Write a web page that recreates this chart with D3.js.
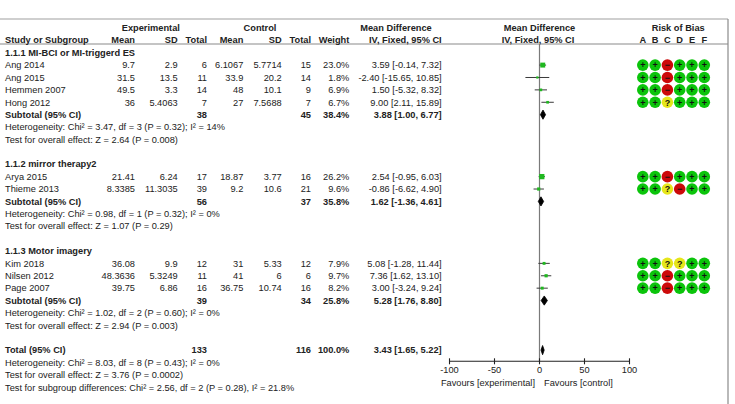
<!DOCTYPE html>
<html><head><meta charset="utf-8">
<script src="https://cdn.jsdelivr.net/npm/d3@7"></script>
<style>
html,body{margin:0;padding:0;background:#fff;}
text{font-family:"Liberation Sans",Arial,sans-serif;font-size:9.25px;fill:#222;}
.b{font-weight:bold;}
</style></head>
<body><svg id="c" width="735" height="404"></svg>
<script>
// ---- data ----
const groupNames = ["1.1.1 MI-BCI or MI-triggerd ES", "1.1.2 mirror therapy2", "1.1.3 Motor imagery"];
const studyNames = ["Ang 2014","Ang 2015","Hemmen 2007","Hong 2012","Arya 2015","Thieme 2013","Kim 2018","Nilsen 2012","Page 2007"];
const studyGroup = [0,0,0,0,1,1,2,2,2];
const expMean = ["9.7","31.5","49.5","36","21.41","8.3385","36.08","48.3636","39.75"];
const expSD   = ["2.9","13.5","3.3","5.4063","6.24","11.3035","9.9","5.3249","6.86"];
const expN    = [6,11,14,7,17,39,12,11,16];
const ctlMean = ["6.1067","33.9","48","27","18.87","9.2","31","41","36.75"];
const ctlSD   = ["5.7714","20.2","10.1","7.5688","3.77","10.6","5.33","6","10.74"];
const ctlN    = [15,14,9,7,16,21,12,6,16];
const weights = [23.0,1.8,6.9,6.7,26.2,9.6,7.9,9.7,8.2];
const meanDiff = [3.59,-2.40,1.50,9.00,2.54,-0.86,5.08,7.36,3.00];
const ciLow  = [-0.14,-15.65,-5.32,2.11,-0.95,-6.62,-1.28,1.62,-3.24];
const ciHigh = [7.32,10.85,8.32,15.89,6.03,4.90,11.44,13.10,9.24];
const riskOfBias = ["++-+++","++-+++","++-+++","++?+++","++-+++","++?-++","++??++","++-+++","++-+++"];
const biasDomains = ["A","B","C","D","E","F"];

const subExpN = [38,56,39];
const subCtlN = [45,37,34];
const subWeight = [38.4,35.8,25.8];
const subMD = [3.88,1.62,5.28];
const subLow = [1.00,-1.36,1.76];
const subHigh = [6.77,4.61,8.80];
const subHet = ["Heterogeneity: Chi² = 3.47, df = 3 (P = 0.32); I² = 14%",
                "Heterogeneity: Chi² = 0.98, df = 1 (P = 0.32); I² = 0%",
                "Heterogeneity: Chi² = 1.02, df = 2 (P = 0.60); I² = 0%"];
const subTest = ["Test for overall effect: Z = 2.64 (P = 0.008)",
                 "Test for overall effect: Z = 1.07 (P = 0.29)",
                 "Test for overall effect: Z = 2.94 (P = 0.003)"];

const totalExpN = 133, totalCtlN = 116, totalWeight = 100.0;
const totalMD = 3.43, totalLow = 1.65, totalHigh = 5.22;
const totalNotes = ["Heterogeneity: Chi² = 8.03, df = 8 (P = 0.43); I² = 0%",
                    "Test for overall effect: Z = 3.76 (P = 0.0002)",
                    "Test for subgroup differences: Chi² = 2.56, df = 2 (P = 0.28), I² = 21.8%"];
const axisTicks = [-100,-50,0,50,100];
const favoursLabels = ["Favours [experimental]","Favours [control]"];

// ---- layout ----
const svg = d3.select("#c");
const W = 728;
const rowY = d3.scaleLinear().domain([0,27]).range([52.7, 387.3]);
const x = d3.scaleLinear().domain([-100,100]).range([449.5,629.5]);
const sqSize = d3.scaleSqrt().domain([0,100]).range([0,10.3]);
const col = {study:5, eMean:135, eSD:177.7, eN:207, cMean:243.3, cSD:281.7, cN:311, w:349.3, ci:441.7};
const biasX = [642.8,655.1,667.4,679.7,692,704.3];
const BL = 3.25; // baseline offset from row centre
const fmtCI = (m,l,h)=> `${m.toFixed(2)} [${l.toFixed(2)}, ${h.toFixed(2)}]`;

function txt(xp, y, s, anchor, bold){
  svg.append("text").attr("x",xp).attr("y",y+BL).attr("text-anchor",anchor||"start")
    .attr("class",bold?"b":null).text(s);
}

// frame lines
svg.append("line").attr("x1",0).attr("x2",W).attr("y1",19).attr("y2",19).attr("stroke","#a0a0a0").attr("stroke-width",1.2);
svg.append("line").attr("x1",0).attr("x2",W).attr("y1",44).attr("y2",44).attr("stroke","#8a8a8a").attr("stroke-width",1.2);
svg.append("line").attr("x1",W).attr("x2",W).attr("y1",19).attr("y2",404).attr("stroke","#8a8a8a").attr("stroke-width",1.2);

// headers
const h1 = 27.7, h2 = 39.6;
txt(150.8,h1,"Experimental","middle",true);
txt(260,h1,"Control","middle",true);
txt(396,h1,"Mean Difference","middle",true);
txt(x(0),h1,"Mean Difference","middle",true);
txt(678.2,h1,"Risk of Bias","middle",true);
txt(col.study,h2,"Study or Subgroup","start",true);
txt(col.eMean,h2,"Mean","end",true);
txt(col.eSD,h2,"SD","end",true);
txt(col.eN,h2,"Total","end",true);
txt(col.cMean,h2,"Mean","end",true);
txt(col.cSD,h2,"SD","end",true);
txt(col.cN,h2,"Total","end",true);
txt(col.w,h2,"Weight","end",true);
txt(col.ci,h2,"IV, Fixed, 95% CI","end",true);
txt(x(0)-1.5,h2,"IV, Fixed, 95% CI","middle",true);
biasDomains.forEach((d,i)=>txt(biasX[i],h2,d,"middle",true));

// zero line
svg.append("line").attr("x1",x(0)).attr("x2",x(0)).attr("y1",44).attr("y2",361)
  .attr("stroke","#7a7a7a").attr("stroke-width",1.2);

const plot = svg.append("g");
function diamond(r, m, l, h){
  const y = rowY(r), hh = 4.6;
  plot.append("path").attr("d",`M${x(l)},${y} L${x(m)},${y-hh} L${x(h)},${y} L${x(m)},${y+hh} Z`)
    .attr("fill","#000").attr("stroke","#000").attr("stroke-width",0.8);
}
const colorMap = {"+":"#0bc40b","-":"#cc0a0a","?":"#e6e61a"};
const symMap = {"+":"+","-":"−","?":"?"};

let r = 0;
groupNames.forEach((g,gi)=>{
  txt(col.study, rowY(r), g, "start", true); r++;
  studyNames.forEach((s,i)=>{
    if(studyGroup[i]!==gi) return;
    const y = rowY(r);
    txt(col.study,y,s);
    txt(col.eMean,y,expMean[i],"end");
    txt(col.eSD,y,expSD[i],"end");
    txt(col.eN,y,expN[i],"end");
    txt(col.cMean,y,ctlMean[i],"end");
    txt(col.cSD,y,ctlSD[i],"end");
    txt(col.cN,y,ctlN[i],"end");
    txt(col.w,y,weights[i].toFixed(1)+"%","end");
    txt(col.ci,y,fmtCI(meanDiff[i],ciLow[i],ciHigh[i]),"end");
    plot.append("line").attr("x1",x(ciLow[i])).attr("x2",x(ciHigh[i])).attr("y1",y).attr("y2",y)
      .attr("stroke","#3a3a3a").attr("stroke-width",1);
    const sz = Math.max(2.2, sqSize(weights[i]));
    plot.append("rect").attr("x",x(meanDiff[i])-sz/2).attr("y",y-sz/2).attr("width",sz).attr("height",sz)
      .attr("fill","#1fb81f");
    // risk of bias
    riskOfBias[i].split("").forEach((c,k)=>{
      svg.append("circle").attr("cx",biasX[k]).attr("cy",y).attr("r",5.8).attr("fill",colorMap[c]);
      svg.append("text").attr("x",biasX[k]).attr("y",y+3.3).attr("text-anchor","middle")
        .attr("class","b").style("font-size","9px").style("fill","#111").text(symMap[c]);
    });
    r++;
  });
  const y = rowY(r);
  txt(col.study,y,"Subtotal (95% CI)","start",true);
  txt(col.eN,y,subExpN[gi],"end",true);
  txt(col.cN,y,subCtlN[gi],"end",true);
  txt(col.w,y,subWeight[gi].toFixed(1)+"%","end",true);
  txt(col.ci,y,fmtCI(subMD[gi],subLow[gi],subHigh[gi]),"end",true);
  diamond(r, subMD[gi], subLow[gi], subHigh[gi]);
  r++;
  txt(col.study,rowY(r),subHet[gi]); r++;
  txt(col.study,rowY(r),subTest[gi]); r++;
  r++; // blank
});
// total
const yt = rowY(r);
txt(col.study,yt,"Total (95% CI)","start",true);
txt(col.eN,yt,totalExpN,"end",true);
txt(col.cN,yt,totalCtlN,"end",true);
txt(col.w,yt,totalWeight.toFixed(1)+"%","end",true);
txt(col.ci,yt,fmtCI(totalMD,totalLow,totalHigh),"end",true);
diamond(r,totalMD,totalLow,totalHigh);
r++;
totalNotes.forEach(n=>{ txt(col.study,rowY(r),n); r++; });

// axis
const axY = 361.3;
const ax = svg.append("g").attr("transform",`translate(0,${axY})`);
ax.append("line").attr("x1",x(-100)).attr("x2",x(100)).attr("stroke","#222").attr("stroke-width",1.1);
ax.selectAll("line.t").data(axisTicks).join("line").attr("class","t")
  .attr("x1",d=>x(d)).attr("x2",d=>x(d)).attr("y1",-3).attr("y2",3).attr("stroke","#222").attr("stroke-width",1.1);
ax.selectAll("text").data(axisTicks).join("text").attr("x",d=>x(d)).attr("y",12.2)
  .attr("text-anchor","middle").text(d=>d);
txt(535,382.3,favoursLabels[0],"end");
txt(544,382.3,favoursLabels[1],"start");
</script></body></html>
